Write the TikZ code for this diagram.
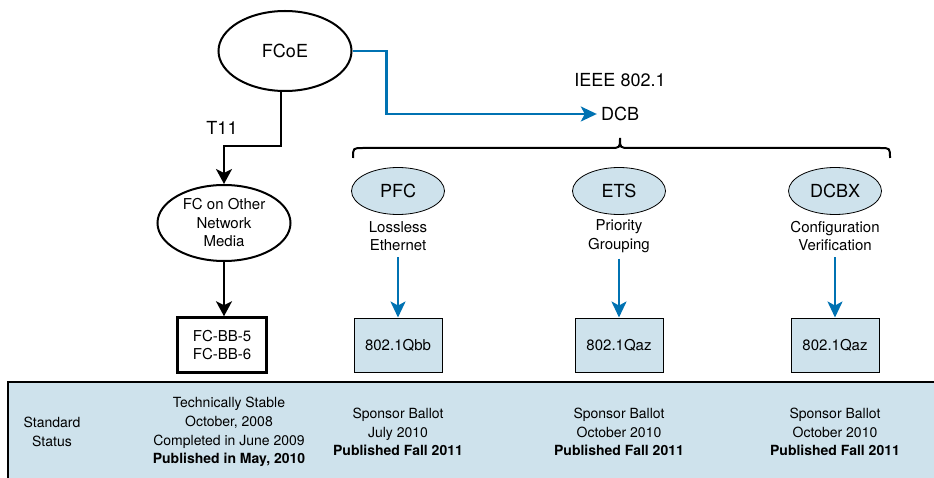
\documentclass[tikz,border=0pt]{standalone}
\usepackage{fontspec}
\setmainfont{TeX Gyre Heros}
\usetikzlibrary{positioning,arrows.meta,shapes.geometric}
\definecolor{dcbblue}{RGB}{0,114,178}
\definecolor{paleblue}{RGB}{206,226,236}
% one DCB column: ellipse, caption, standard box, status text
\newcommand{\dcbcol}[6]{%
  \node[smallell] (#1) at (#2,191) {#3};
  \node[sublbl] (#1lbl) at (#2,236) {#4};
  \node[stdbox] (#1std) at (#2,345) {#5};
  \node[status] (#1st) at (#2,432) {#6};
  \draw[bluearrow] (#1lbl.south) -- (#1std.north);}

\begin{document}
\begin{tikzpicture}[x=1pt, y=-1pt,
  bigfont/.style={font=\fontsize{18}{21}\selectfont},
  midfont/.style={font=\fontsize{15}{18.5}\selectfont},
  bigell/.style={ellipse, draw, line width=2pt, inner sep=0pt,
    minimum width=133pt},
  smallell/.style={ellipse, draw, line width=0.8pt, fill=paleblue,
    inner sep=0pt, minimum width=93pt, minimum height=47pt, bigfont},
  sublbl/.style={align=center, inner sep=2pt, midfont},
  stdbox/.style={rectangle, draw, line width=1pt, fill=paleblue,
    minimum width=88pt, minimum height=54pt, midfont},
  status/.style={align=center, font=\fontsize{14}{18.7}\selectfont},
  blackarrow/.style={line width=2.5pt,
    -{Stealth[length=15pt, width=16pt, inset=4pt]}},
  bluearrow/.style={draw=dcbblue, line width=2.2pt, shorten <=4pt,
    -{Stealth[length=16pt, width=15pt, inset=4pt]}}]
  \useasboundingbox (0,0) rectangle (934,478);

  % status band
  \fill[paleblue] (8,382) rectangle (934,478);
  \draw[line width=1.2pt] (8,478) -- (8,382) -- (934,382);

  % FCoE and the T11 branch
  \node[bigell, minimum height=80pt, bigfont] (fcoe) at (285,51) {FCoE};
  \node[bigell, minimum height=76pt, midfont, align=center] (fcother)
    at (224,223) {FC on Other\\Network\\Media};
  \node[rectangle, draw, line width=2.5pt, minimum width=89pt,
    minimum height=55pt, midfont, align=center] (fcbb)
    at (222,345) {FC-BB-5\\FC-BB-6};
  \node[bigfont] (t11) at (222,128) {T11};
  \draw[blackarrow] ([xshift=-4pt]fcoe.south) -- ++(0,54) -| (fcother.north);
  \draw[blackarrow] (fcother.south) -- (fcother.south |- fcbb.north);

  % IEEE 802.1 DCB branch
  \node[bigfont] (ieee) at (620,80) {IEEE 802.1};
  \node[bigfont, inner sep=4pt] (dcb) at (620,114) {DCB};
  \draw[bluearrow, shorten <=0pt] (fcoe.east) -- ++(34,0) |- (dcb.west);
  \draw[line width=2pt]
    (353,158) .. controls (353,148) .. (363,148) -- (610,148)
    .. controls (620,148) .. (620,138)
    .. controls (620,148) .. (630,148) -- (880,148)
    .. controls (890,148) .. (890,158);

  \dcbcol{pfc}{398}{PFC}{Lossless\\Ethernet}{802.1Qbb}%
    {Sponsor Ballot\\July 2010\\\textbf{Published Fall 2011}}
  \dcbcol{ets}{619}{ETS}{Priority\\Grouping}{802.1Qaz}%
    {Sponsor Ballot\\October 2010\\\textbf{Published Fall 2011}}
  \dcbcol{dcbx}{835}{DCBX}{Configuration\\Verification}{802.1Qaz}%
    {Sponsor Ballot\\October 2010\\\textbf{Published Fall 2011}}

  \node[status] (stdlbl) at (52,432) {Standard\\Status};
  \node[status] (fcst) at (229,432) {Technically Stable\\October, 2008\\
    Completed in June 2009\\\textbf{Published in May, 2010}};
\end{tikzpicture}
\end{document}
